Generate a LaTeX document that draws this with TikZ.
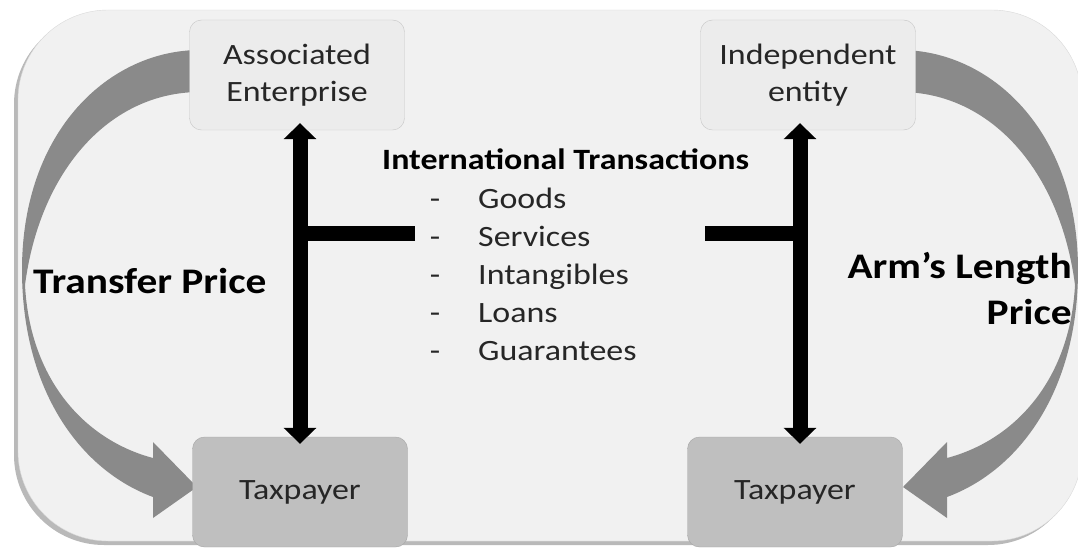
\documentclass[tikz,border=0pt]{standalone}
\usepackage{fontspec}
\setmainfont[FakeStretch=1.15]{Carlito}
\usetikzlibrary{arrows.meta,positioning}
\definecolor{bgfill}{RGB}{241,241,241}
\definecolor{boxfill}{RGB}{236,236,236}
\definecolor{taxfill}{RGB}{191,191,191}
\definecolor{arcgray}{RGB}{138,138,138}
\definecolor{txt}{RGB}{38,38,38}
\newcommand\pricearc{(200,50) .. controls (110,50) and (22,130) .. (22,270) .. controls (22,390) and (80,470) .. (153,497) -- (153,518) -- (197,487) -- (153,442) -- (153,458) .. controls (85,440) and (30,380) .. (25,285) .. controls (40,170) and (110,92) .. (200,92) -- cycle}
\tikzset{
  topbox/.style={draw=gray!45, fill=boxfill, rounded corners=12pt, minimum width=215pt, minimum height=110pt, align=center, text=txt, font=\fontsize{29.5}{37}\selectfont},
  taxbox/.style={topbox, fill=taxfill, draw=gray!70},
  flow/.style={line width=15pt, {Triangle[width=32pt,length=16pt]}-{Triangle[width=32pt,length=16pt]}, shorten <=-7pt, shorten >=-7pt},
  stub/.style={line width=15pt},
  item/.style={inner sep=0pt, text=txt, font=\fontsize{29.5}{38}\selectfont},
  price/.style={inner sep=0pt, font=\fontsize{36}{46}\selectfont\bfseries}
}
\begin{document}
\begin{tikzpicture}[x=1pt,y=-1pt]
\useasboundingbox (0,0) rectangle (1078,548);
\fill[gray!55, rounded corners=90pt] (14,14) rectangle (1078,545);
\draw[gray!30, fill=bgfill, rounded corners=90pt] (18,10) rectangle (1082,541);
\fill[arcgray] \pricearc;
\fill[arcgray, shift={(1100,0)}, xscale=-1] \pricearc;
\node[topbox] (ae) at (297,75) {Associated\\Enterprise};
\node[topbox] (ie) at (808,75) {Independent\\entity};
\node[taxbox] (tpl) at (300,492) {Taxpayer};
\node[taxbox] (tpr) at (795,492) {Taxpayer};
\coordinate (lx) at (300,0);
\coordinate (rx) at (800,0);
\coordinate (lstub) at (415,233);
\coordinate (rstub) at (705,233);
\draw[flow] (lx |- ae.south) -- (lx |- tpl.north);
\draw[flow] (rx |- ie.south) -- (rx |- tpr.north);
\draw[stub] (lstub) -- (lstub -| lx);
\draw[stub] (rstub) -- (rstub -| rx);
\node[item, font=\fontsize{29.5}{38}\selectfont\bfseries, text=black, anchor=base west] (trans) at (382,170) {International Transactions};
\foreach \w [count=\i] in {Goods,Services,Intangibles,Loans,Guarantees}{
  \node[item, anchor=base] (d\i) at (435,170+38*\i) {-};
  \node[item, anchor=base west] (it\i) at (478,170+38*\i) {\w};
}
\node[price, anchor=base west] (tprice) at (33,293) {Transfer Price};
\node[price, anchor=east, align=right] (aprice) at (1072,289) {Arm’s Length\\Price};
\end{tikzpicture}
\end{document}
